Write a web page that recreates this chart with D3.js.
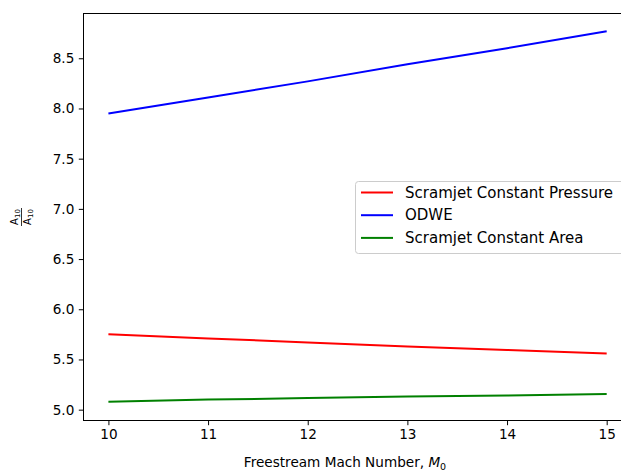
<!DOCTYPE html>
<html><head><meta charset="utf-8">
<script src="https://cdn.jsdelivr.net/npm/d3@7"></script>
<style>body{margin:0;background:#fff}svg{display:block}text{font-family:"DejaVu Sans",sans-serif}</style>
</head><body>
<script>
const machNumbers = [10, 11, 12, 13, 14, 15];
const scramjetConstantPressure = [5.75, 5.71, 5.67, 5.63, 5.595, 5.56];
const odwe = [7.95, 8.11, 8.27, 8.44, 8.60, 8.77];
const scramjetConstantArea = [5.08, 5.10, 5.115, 5.13, 5.14, 5.155];
const seriesNames = ["Scramjet Constant Pressure", "ODWE", "Scramjet Constant Area"];
const seriesColors = ["#ff0000", "#0000ff", "#008000"];
const xTicks = [10, 11, 12, 13, 14, 15];
const yTicks = [5.0, 5.5, 6.0, 6.5, 7.0, 7.5, 8.0, 8.5];

(function () {
const W = 621, H = 471;
const svg = d3.select("body").append("svg").attr("width", W).attr("height", H);
const pL = 83.5, pT = 13.5, pB = 420.5, pR = 631.6;
const x = d3.scaleLinear().domain([9.75, 15.25]).range([pL, pR]);
const y = d3.scaleLinear().domain([4.892, 8.946]).range([pB, pT]);

const allSeries = [scramjetConstantPressure, odwe, scramjetConstantArea];
const line = d3.line().x((d, i) => x(machNumbers[i])).y(d => y(d));
allSeries.forEach((s, k) => {
  svg.append("path").attr("d", line(s)).attr("fill", "none")
    .attr("stroke", seriesColors[k]).attr("stroke-width", 2);
});

// spines
svg.append("rect").attr("x", pL).attr("y", pT).attr("width", pR - pL).attr("height", pB - pT)
  .attr("fill", "none").attr("stroke", "#000").attr("stroke-width", 1);

const fs = 13.6;
const xAxis = d3.axisBottom(x).tickValues(xTicks).tickFormat(d3.format("d")).tickSize(4.7).tickPadding(4.5);
const gx = svg.append("g").attr("transform", `translate(0,${pB})`).call(xAxis);
gx.select(".domain").remove();
gx.selectAll("text").attr("font-size", fs).attr("fill", "#000").attr("font-family", "DejaVu Sans");

const yAxis = d3.axisLeft(y).tickValues(yTicks).tickFormat(d3.format(".1f")).tickSize(4.7).tickPadding(4.5);
const gy = svg.append("g").attr("transform", `translate(${pL},0)`).call(yAxis);
gy.select(".domain").remove();
gy.selectAll("text").attr("font-size", fs).attr("fill", "#000").attr("font-family", "DejaVu Sans");

// x label
const xl = svg.append("text").attr("x", 345).attr("y", 467).attr("text-anchor", "middle").attr("font-size", fs);
xl.append("tspan").text("Freestream Mach Number, ");
xl.append("tspan").attr("font-style", "italic").text("M");
xl.append("tspan").attr("font-size", 9.5).attr("dy", 3).text("0");

// y label (fraction)
const yl = svg.append("g").attr("transform", "translate(21,217) rotate(-90)");
yl.append("text").attr("x", 0).attr("y", -3).attr("text-anchor", "middle").attr("font-size", 10)
  .html('A<tspan font-size="7" dy="2">10</tspan>');
yl.append("line").attr("x1", -9).attr("x2", 9).attr("y1", 0.5).attr("y2", 0.5).attr("stroke", "#000").attr("stroke-width", 0.8);
yl.append("text").attr("x", 0).attr("y", 10).attr("text-anchor", "middle").attr("font-size", 10)
  .html('A<tspan font-size="7" dy="2">10</tspan>');

// legend
const lg = svg.append("g");
lg.append("rect").attr("x", 355.5).attr("y", 181.5).attr("width", 300).attr("height", 72).attr("rx", 3)
  .attr("fill", "#fff").attr("fill-opacity", 0.8).attr("stroke", "#ccc").attr("stroke-width", 1);
seriesNames.forEach((name, k) => {
  const yy = 192.5 + k * 22.7;
  lg.append("line").attr("x1", 361).attr("x2", 393).attr("y1", yy).attr("y2", yy)
    .attr("stroke", seriesColors[k]).attr("stroke-width", 2);
  lg.append("text").attr("x", 405).attr("y", yy + 5).attr("font-size", 15).attr("fill", "#000").text(name);
});
})();
</script>
</body></html>
